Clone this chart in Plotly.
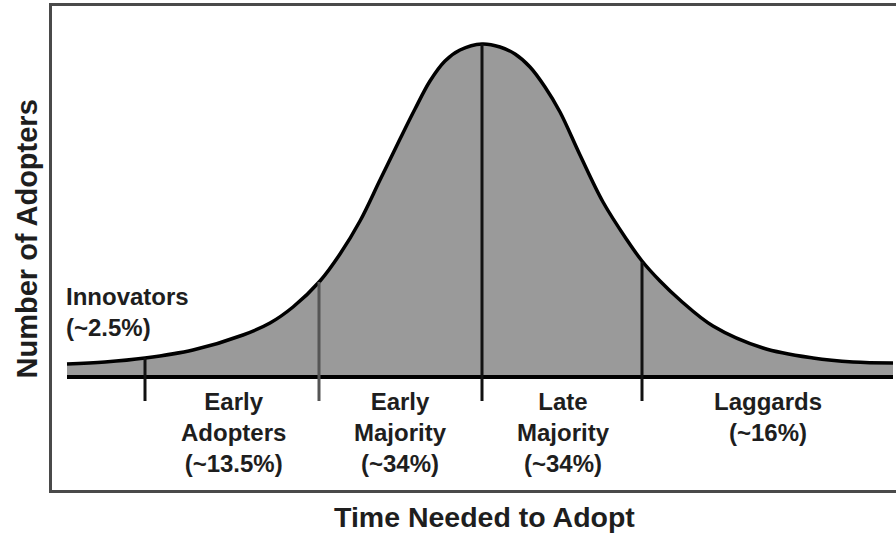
import plotly.graph_objects as go

# curve of adopters (time vs. number, baseline = 0)
time_pts = [15, 53, 93, 141, 191, 218, 241, 268, 288, 308, 328, 348, 363, 378, 393, 408, 430,
            448, 463, 478, 493, 508, 528, 551, 575, 590, 608, 628, 661, 711, 761, 801, 841]
adopters = [13, 15, 19, 27, 42, 54, 70, 96, 123, 156, 197, 238, 268, 296, 316, 327, 333,
            330, 323, 310, 290, 265, 222, 175, 137, 116, 96, 77, 51, 29, 19, 15, 14]

# category dividers: position, height where they meet the curve
divider_x = [93, 267, 430, 590]
divider_top = [19, 95, 333, 115]
divider_bottom = -24
divider_colors = ["#111111", "#555555", "#111111", "#111111"]

groups = [
    "Early<br>Adopters<br>(~13.5%)",
    "Early<br>Majority<br>(~34%)",
    "Late<br>Majority<br>(~34%)",
    "Laggards<br>(~16%)",
]
group_x = [181, 348, 511, 716]
innovators_label = "Innovators<br>(~2.5%)"

FONT = "Liberation Sans"
TXT = "#1e1e1e"

fig = go.Figure()

fig.add_trace(go.Scatter(
    x=time_pts, y=adopters, mode="lines", fill="tozeroy",
    fillcolor="#9a9a9a", line=dict(color="#000000", width=3.5, shape="spline", smoothing=1.0),
    hoverinfo="skip"
))

# baseline
fig.add_trace(go.Scatter(
    x=[time_pts[0], time_pts[-1]], y=[0, 0], mode="lines",
    line=dict(color="#000000", width=4), hoverinfo="skip"
))

for dx, top, col in zip(divider_x, divider_top, divider_colors):
    fig.add_trace(go.Scatter(
        x=[dx, dx], y=[top, divider_bottom], mode="lines",
        line=dict(color=col, width=3), hoverinfo="skip"
    ))

for gx, txt in zip(group_x, groups):
    fig.add_annotation(x=gx, y=-9, xref="x", yref="y", text=txt, showarrow=False,
                       xanchor="center", yanchor="top", align="center",
                       font=dict(family=FONT, size=24, color=TXT, weight="bold"))

fig.add_annotation(x=12, y=96, xref="x", yref="y", text=innovators_label, showarrow=False,
                   xanchor="left", yanchor="top", align="left",
                   font=dict(family=FONT, size=24, color=TXT, weight="bold"))

fig.add_annotation(x=0.513, y=-0.056, xref="paper", yref="paper", text="Time Needed to Adopt",
                   showarrow=False, xanchor="center", yanchor="middle",
                   font=dict(family=FONT, size=28.5, color=TXT, weight="bold"))
fig.add_annotation(x=-0.030, y=0.519, xref="paper", yref="paper", text="Number of Adopters",
                   showarrow=False, textangle=-90, xanchor="center", yanchor="middle",
                   font=dict(family=FONT, size=29, color=TXT, weight="bold"))

fig.update_layout(
    width=896, height=534,
    margin=dict(l=52, r=0, t=6, b=44),
    paper_bgcolor="white", plot_bgcolor="white",
    showlegend=False,
    xaxis=dict(range=[0, 844], showgrid=False, zeroline=False, showticklabels=False,
               ticks="", showline=True, mirror=True, linecolor="#4a4a4a", linewidth=2.5),
    yaxis=dict(range=[-113, 371], showgrid=False, zeroline=False, showticklabels=False,
               ticks="", showline=True, linecolor="#4a4a4a", linewidth=2.5),
)

fig.write_html("out.html", config={"displayModeBar": False},
               post_script="document.body.style.margin='0';")
